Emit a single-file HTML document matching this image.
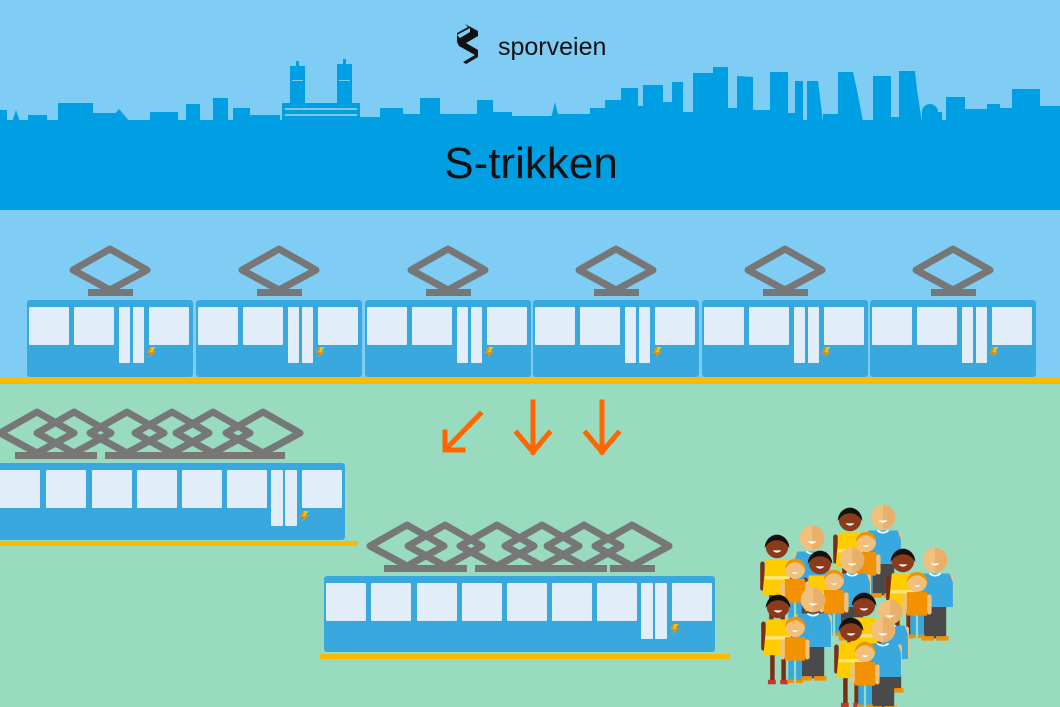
<!DOCTYPE html>
<html><head><meta charset="utf-8"><style>
html,body{margin:0;padding:0;width:1060px;height:707px;overflow:hidden;background:#99dbbf}
svg{display:block}
</style></head><body>
<svg width="1060" height="707" viewBox="0 0 1060 707" xmlns="http://www.w3.org/2000/svg">
<defs>
<g id="panto" fill="none" stroke="#777" stroke-width="7" stroke-linejoin="round">
  <path d="M0,-39 L37,-18 L0,2 L-37,-18 Z"/>
</g>
<g id="bolt"><path d="M2,0 L8,0 L4,4 L8,4 L1,11 L3,6 L-1,6 Z" fill="#f39200"/><path d="M3,1 L6,1 L3,4 L5,4" fill="none" stroke="#ffd400" stroke-width="1.2"/></g>
<g id="car">
  <rect x="0" y="0" width="166" height="77" rx="3" fill="#38a8df"/>
  <g fill="#e1edf8">
    <rect x="2" y="7" width="40" height="38" rx="1"/>
    <rect x="47" y="7" width="40" height="38" rx="1"/>
    <rect x="92" y="7" width="11" height="56" rx="1"/>
    <rect x="106" y="7" width="11" height="56" rx="1"/>
    <rect x="122" y="7" width="40" height="38" rx="1"/>
  </g>
  <use href="#bolt" x="121" y="47"/>
  <use href="#panto" x="83" y="-12"/>
  <rect x="61" y="-11" width="45" height="7" fill="#777"/>
</g>
<g id="man">
  <rect x="-10" y="40" width="20" height="30" fill="#4a4a4a"/>
  <rect x="-12" y="68" width="11" height="4" fill="#f39200"/><rect x="1" y="68" width="11" height="4" fill="#f39200"/>
  <rect x="-17" y="13" width="5" height="28" rx="2" fill="#f0c07c"/><rect x="12" y="13" width="5" height="28" rx="2" fill="#f0c07c"/>
  <path d="M-13,12 h26 l3,8 v22 h-32 v-22 z" fill="#38a8df"/>
  <path d="M-5,12 q5,4 10,0" stroke="#fff" stroke-width="1.5" fill="none"/>
  <circle cx="0" cy="0" r="11" fill="#f0c07c"/>
  <path d="M0,-11 a11,11 0 0,1 0,22 z" fill="#e8b06a"/>
  <path d="M-4,3 q4,4 8,0 z" fill="#fff"/>
</g>
<g id="woman">
  <rect x="-7" y="40" width="4" height="27" fill="#7a2e12"/><rect x="3" y="40" width="4" height="27" fill="#7a2e12"/>
  <rect x="-9" y="65" width="7" height="4" fill="#c0392b"/><rect x="2" y="65" width="7" height="4" fill="#c0392b"/>
  <rect x="-15" y="13" width="4" height="26" rx="2" fill="#7a2e12"/><rect x="11" y="13" width="4" height="26" rx="2" fill="#7a2e12"/>
  <path d="M-10,11 h20 l3,32 h-26 z" fill="#ffcc00"/>
  <rect x="-11" y="26" width="22" height="3" fill="#ffe680"/>
  <circle cx="0" cy="0" r="10" fill="#8b3a1a"/>
  <path d="M-11,1 a11,12 0 0,1 22,0 q-4,-7 -11,-7 q-7,0 -11,7z" fill="#111"/>
  <path d="M-4,3 q4,4 8,0 z" fill="#fff"/>
</g>
<g id="kid">
  <rect x="-6" y="28" width="5" height="20" fill="#38a8df"/><rect x="1" y="28" width="5" height="20" fill="#38a8df"/>
  <rect x="-7" y="47" width="6" height="3" fill="#f39200"/><rect x="1" y="47" width="6" height="3" fill="#f39200"/>
  <rect x="-13" y="11" width="4" height="18" rx="2" fill="#f0c07c"/><rect x="9" y="11" width="4" height="18" rx="2" fill="#f0c07c"/>
  <rect x="-9" y="9" width="18" height="21" fill="#f39200"/>
  <circle cx="0" cy="0" r="9" fill="#f0c07c"/>
  <path d="M-9,0 a9,9 0 0,1 18,0 q-4,-6 -9,-6 q-5,0 -9,6z" fill="#f39200"/>
  <path d="M-3,3 q3,3 6,0 z" fill="#fff"/>
</g>
</defs>

<rect x="0" y="0" width="1060" height="380" fill="#7fcdf4"/>
<g fill="#009fe3">
<rect x="0" y="120" width="1060" height="90"/>
<rect x="0" y="110" width="7" height="12"/><path d="M12,122 L16,110 L20,122Z"/>
<rect x="28" y="115" width="19" height="8"/><rect x="58" y="103" width="35" height="20"/><rect x="93" y="113" width="22" height="10"/>
<path d="M108,122 L119,109 L130,122Z"/><rect x="150" y="112" width="28" height="10"/><rect x="186" y="104" width="14" height="18"/>
<rect x="213" y="98" width="15" height="24"/><rect x="233" y="108" width="17" height="14"/><rect x="250" y="115" width="30" height="8"/>
<rect x="282" y="103" width="78" height="20"/><rect x="290" y="66" width="15" height="40"/><rect x="296" y="61" width="3" height="6"/>
<rect x="337" y="64" width="15" height="42"/><rect x="343" y="59" width="3" height="6"/>
<rect x="360" y="117" width="20" height="6"/><rect x="380" y="108" width="23" height="14"/><rect x="403" y="114" width="17" height="8"/>
<rect x="420" y="98" width="20" height="24"/><rect x="440" y="114" width="37" height="8"/><rect x="477" y="100" width="16" height="22"/>
<rect x="493" y="112" width="19" height="10"/><rect x="512" y="116" width="40" height="6"/><path d="M550,122 L555,102 L560,122Z"/>
<rect x="558" y="114" width="32" height="8"/><rect x="590" y="108" width="15" height="14"/><rect x="605" y="100" width="16" height="22"/>
<rect x="621" y="88" width="17" height="34"/><rect x="638" y="106" width="5" height="16"/><rect x="643" y="85" width="20" height="37"/>
<rect x="663" y="102" width="9" height="20"/><rect x="672" y="82" width="11" height="40"/><rect x="683" y="112" width="10" height="10"/>
<rect x="693" y="73" width="35" height="49"/><rect x="713" y="67" width="15" height="10"/><rect x="728" y="108" width="9" height="14"/>
<path d="M737,122 V76 L753,77 V122Z"/><rect x="753" y="110" width="17" height="12"/><rect x="770" y="72" width="18" height="50"/>
<rect x="788" y="113" width="7" height="9"/><rect x="795" y="81" width="8" height="41"/><path d="M807,122 V81 H818 L823,122Z"/>
<rect x="823" y="114" width="15" height="8"/><path d="M838,122 V72 H853 L858,95 L863,122Z"/><rect x="863" y="121" width="10" height="2"/>
<rect x="873" y="76" width="18" height="46"/><rect x="891" y="117" width="8" height="5"/><path d="M899,122 V71 H915 L917,90 L922,122Z"/>
<circle cx="930" cy="112" r="8"/><rect x="922" y="112" width="20" height="10"/><rect x="946" y="97" width="19" height="25"/>
<rect x="965" y="109" width="22" height="13"/><rect x="987" y="104" width="13" height="18"/><rect x="1000" y="108" width="12" height="14"/>
<rect x="1012" y="89" width="28" height="33"/><rect x="1040" y="106" width="20" height="16"/>
</g>
<g fill="#7fcdf4">
<rect x="292" y="80" width="11" height="1" /><rect x="339" y="80" width="11" height="1"/>
<rect x="285" y="108" width="72" height="2"/><rect x="285" y="114" width="72" height="2"/>
</g>
<rect x="0" y="210" width="1060" height="2" fill="#7fcdf4"/>

<!-- logo -->
<g fill="#111">
<path d="M465,24 L478,31 L478,36 L466,43 L478,50 L478,57 L466,64 L463,62 L475,55 L459,46 L457,42 L457,33 L468,27 Z"/>
<path d="M457,35 L470,28 L470,32 L460,38Z" fill="#7fcdf4"/>
</g>
<text x="498" y="55" font-family="Liberation Sans, sans-serif" font-size="25" fill="#111">sporveien</text>
<text x="531" y="178" text-anchor="middle" font-family="Liberation Sans, sans-serif" font-size="44" fill="#111">S-trikken</text>

<use href="#car" x="27" y="300"/>
<use href="#car" x="196" y="300"/>
<use href="#car" x="365" y="300"/>
<use href="#car" x="533" y="300"/>
<use href="#car" x="702" y="300"/>
<use href="#car" x="870" y="300"/>
<rect x="0" y="378" width="1060" height="6" fill="#fbb900"/>

<g stroke="#ff6600" stroke-width="5" fill="none" stroke-linecap="square">
<path d="M480,414 L446,449 M445,432 L445,450 L463,450"/>
<path d="M533,402 L533,452 M517,433 L533,452 L549,433"/>
<path d="M602,402 L602,452 M586,433 L602,452 L618,433"/>
</g>

<g>
<use href="#panto" x="37" y="451"/><use href="#panto" x="74" y="451"/><use href="#panto" x="127" y="451"/>
<use href="#panto" x="172" y="451"/><use href="#panto" x="213" y="451"/><use href="#panto" x="263" y="451"/>
<g fill="#777"><rect x="15" y="452" width="82" height="7"/><rect x="105" y="452" width="45" height="7"/><rect x="150" y="452" width="90" height="7"/><rect x="240" y="452" width="45" height="7"/></g>
<rect x="-5" y="463" width="350" height="77" rx="3" fill="#38a8df"/>
<g fill="#e1edf8">
<rect x="0" y="470" width="40" height="38" rx="1"/><rect x="46" y="470" width="40" height="38" rx="1"/><rect x="92" y="470" width="40" height="38" rx="1"/>
<rect x="137" y="470" width="40" height="38" rx="1"/><rect x="182" y="470" width="40" height="38" rx="1"/><rect x="227" y="470" width="40" height="38" rx="1"/>
<rect x="271" y="470" width="12" height="56" rx="1"/><rect x="285" y="470" width="12" height="56" rx="1"/><rect x="302" y="470" width="40" height="38" rx="1"/>
</g>
<use href="#bolt" x="301" y="511"/>
<rect x="0" y="541" width="358" height="5" fill="#fbb900"/>
</g>

<g>
<use href="#panto" x="407" y="564"/><use href="#panto" x="445" y="564"/><use href="#panto" x="497" y="564"/>
<use href="#panto" x="542" y="564"/><use href="#panto" x="584" y="564"/><use href="#panto" x="632" y="564"/>
<g fill="#777"><rect x="384" y="565" width="83" height="7"/><rect x="475" y="565" width="132" height="7"/><rect x="610" y="565" width="45" height="7"/></g>
<rect x="324" y="576" width="391" height="76" rx="3" fill="#38a8df"/>
<g fill="#e1edf8">
<rect x="326" y="583" width="40" height="38" rx="1"/><rect x="371" y="583" width="40" height="38" rx="1"/><rect x="417" y="583" width="40" height="38" rx="1"/>
<rect x="462" y="583" width="40" height="38" rx="1"/><rect x="507" y="583" width="40" height="38" rx="1"/><rect x="552" y="583" width="40" height="38" rx="1"/>
<rect x="597" y="583" width="40" height="38" rx="1"/><rect x="641" y="583" width="12" height="56" rx="1"/><rect x="655" y="583" width="12" height="56" rx="1"/>
<rect x="672" y="583" width="40" height="38" rx="1"/>
</g>
<use href="#bolt" x="671" y="624"/>
<rect x="320" y="654" width="410" height="5" fill="#fbb900"/>
</g>

<g>
<use href="#man" transform="translate(883,517) scale(1.12)"/><use href="#woman" transform="translate(850,520) scale(1.12)"/><use href="#kid" transform="translate(866,542) scale(1.12)"/>
<use href="#man" transform="translate(812,538) scale(1.12)"/><use href="#woman" transform="translate(777,547) scale(1.12)"/><use href="#man" transform="translate(935,560) scale(1.12)"/>
<use href="#woman" transform="translate(820,563) scale(1.12)"/><use href="#kid" transform="translate(795,569) scale(1.12)"/><use href="#man" transform="translate(852,560) scale(1.12)"/>
<use href="#woman" transform="translate(903,561) scale(1.12)"/><use href="#kid" transform="translate(834,580) scale(1.12)"/><use href="#kid" transform="translate(917,582) scale(1.12)"/>
<use href="#man" transform="translate(813,600) scale(1.12)"/><use href="#woman" transform="translate(778,607) scale(1.12)"/><use href="#man" transform="translate(890,612) scale(1.12)"/>
<use href="#woman" transform="translate(864,605) scale(1.12)"/><use href="#kid" transform="translate(795,627) scale(1.12)"/>
<use href="#man" transform="translate(883,630) scale(1.12)"/><use href="#woman" transform="translate(851,630) scale(1.12)"/><use href="#kid" transform="translate(865,652) scale(1.12)"/>
</g>
</svg>
</body></html>
